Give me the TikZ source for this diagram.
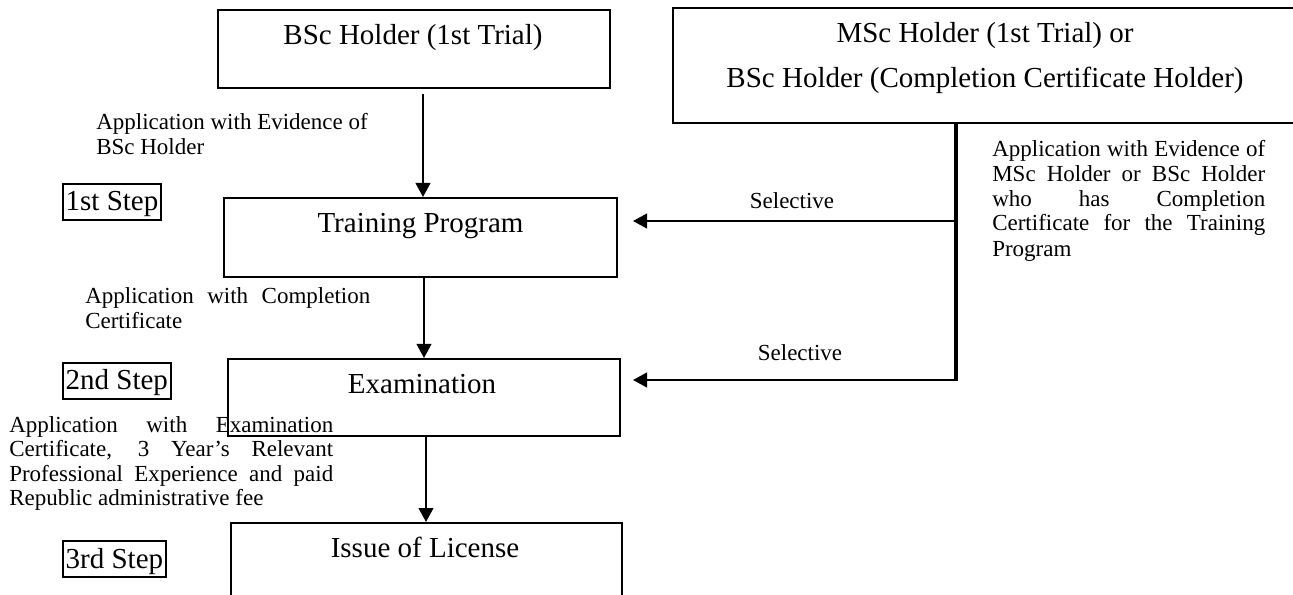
\documentclass[tikz,border=0pt]{standalone}
\usepackage{fontspec}
\setmainfont{Liberation Serif}
\usetikzlibrary{arrows.meta,fit,calc}

% type sizes: box titles and step tags, and the smaller notes
\newcommand\bigtext{\fontsize{21.75pt}{26pt}\selectfont}
\newcommand\smalltext{\fontsize{17.25pt}{18.4pt}\selectfont}
% a fully justified line of given width
\newcommand\jline[2]{\makebox[#1][s]{#2}}

\begin{document}
\begin{tikzpicture}[x=0.75pt,y=-0.75pt,
  stage/.style={draw, line width=1.5pt, inner sep=0pt},
  title/.style={font=\bigtext, inner sep=0pt, anchor=base},
  stepbox/.style={draw, line width=1.5pt, font=\bigtext, text height=19.5pt,
    text depth=6pt, inner xsep=2pt, inner ysep=0.75pt, anchor=base west},
  note/.style={font=\smalltext, inner sep=0pt, anchor=base west},
  tag/.style={font=\smalltext, inner sep=0pt, anchor=base},
  arr/.style={line width=1.5pt, -{Triangle[width=11pt,length=10.5pt]}},
  feed/.style={line width=2.3pt}
]
\useasboundingbox (0,0) rectangle (1293,595);
\clip (0,0) rectangle (1293,595);

% stage boxes
\node[stage, fit={(218,10)(610,88)}] (b1) {};
\node[stage, line width=1.8pt, fit={(673,8)(1310,123)}] (b2) {};
\node[stage, fit={(224,198)(617,277)}] (b3) {};
\node[stage, fit={(228,359)(620,436)}] (b4) {};
\node[stage, fit={(231,523)(622,640)}] (b5) {};

% box titles
\node[title] (t1) at (413,45) {BSc Holder (1st Trial)};
\node[title] (t2a) at (985,43) {MSc Holder (1st Trial) or};
\node[title] (t2b) at (985,88) {BSc Holder (Completion Certificate Holder)};
\node[title] (t3) at (420.5,233) {Training Program};
\node[title] (t4) at (422,393) {Examination};
\node[title] (t5) at (425,557.5) {Issue of License};

% step tags
\node[stepbox] (s1) at (62,211) {1st Step};
\node[stepbox] (s2) at (62,390) {2nd Step};
\node[stepbox] (s3) at (62,568) {3rd Step};

% notes beside the arrows
\node[note] (n1) at (96,130) {\parbox[t]{204pt}{Application with Evidence of\\BSc Holder}};
\node[note] (n2) at (85,304) {\parbox[t]{213.75pt}{\jline{213.75pt}{Application with Completion}\\Certificate}};
\node[note] (n3) at (9,432) {\parbox[t]{243pt}{%
  \jline{243pt}{Application with Examination}\\
  \jline{243pt}{Certificate, 3 Year’s Relevant}\\
  \jline{243pt}{Professional Experience and paid}\\
  Republic administrative fee}};
\node[note] (n4) at (992,157) {\parbox[t]{204.75pt}{%
  \jline{204.75pt}{Application with Evidence of}\\
  \jline{204.75pt}{MSc Holder or BSc Holder}\\
  \jline{204.75pt}{who has Completion}\\
  \jline{204.75pt}{Certificate for the Training}\\[1pt]
  Program}};
\node[tag] (sel1) at (792,209) {Selective};
\node[tag] (sel2) at (800,361) {Selective};

% main flow, each arrow strictly vertical
\path ($(b1.south)+(9,5)$) coordinate (a1)
      ($(b3.south)+(3.5,0)$) coordinate (a2)
      ($(b4.south)+(2,-2)$) coordinate (a3);
\draw[arr] (a1) -- (a1 |- b3.north);
\draw[arr] (a2) -- (a2 |- b4.north);
\draw[arr] (a3) -- (a3 |- b5.north);

% side entry from the MSc box
\coordinate (j1) at (956,221);
\coordinate (j2) at (956,380);
\draw[feed] (j1 |- b2.south) -- ($(j2)+(0,1.5)$);
\draw[arr] (j1) -- ($(j1 -| b3.east)+(15,0)$);
\draw[arr] (j2) -- ($(j2 -| b4.east)+(12,0)$);
\end{tikzpicture}
\end{document}
